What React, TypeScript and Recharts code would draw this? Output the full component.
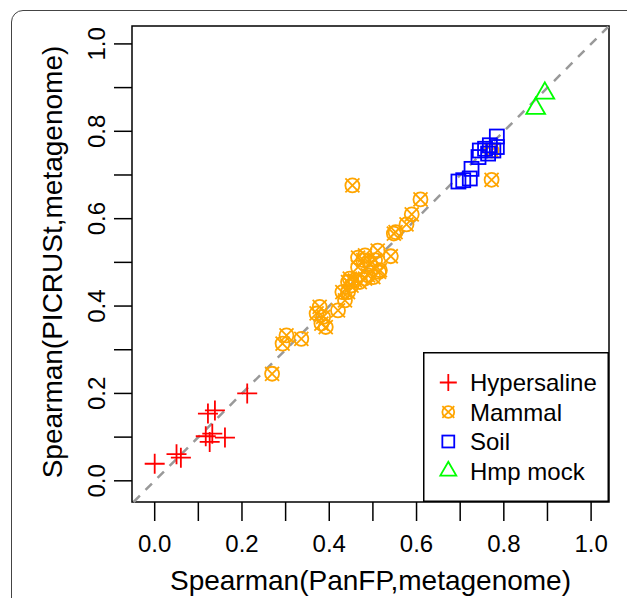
import {
  Legend,
  ReferenceArea,
  ReferenceLine,
  Scatter,
  ScatterChart,
  XAxis,
  YAxis,
} from "recharts";

const hyperX = [0.0, 0.05, 0.06, 0.117, 0.126, 0.132, 0.161, 0.122, 0.138, 0.212];
const hyperY = [0.039, 0.061, 0.053, 0.102, 0.089, 0.108, 0.099, 0.154, 0.161, 0.2];

const mammalX = [
  0.269, 0.293, 0.302, 0.336, 0.371, 0.378, 0.382, 0.386, 0.392, 0.42, 0.43, 0.436,
  0.443, 0.443, 0.447, 0.451, 0.459, 0.47, 0.482, 0.466, 0.478, 0.493, 0.466, 0.489,
  0.501, 0.514, 0.516, 0.482, 0.505, 0.511, 0.541, 0.548, 0.552, 0.577, 0.589, 0.609,
  0.453, 0.772, 0.772,
];
const mammalY = [
  0.245, 0.314, 0.333, 0.325, 0.383, 0.398, 0.36, 0.375, 0.352, 0.39, 0.432, 0.413,
  0.432, 0.455, 0.463, 0.447, 0.459, 0.455, 0.463, 0.511, 0.505, 0.497, 0.489, 0.47,
  0.466, 0.478, 0.482, 0.516, 0.505, 0.527, 0.514, 0.566, 0.569, 0.587, 0.61, 0.644,
  0.676, 0.689, 0.756,
];

const soilX = [0.696, 0.707, 0.722, 0.726, 0.742, 0.745, 0.757, 0.764, 0.768, 0.776, 0.784, 0.784];
const soilY = [0.685, 0.688, 0.692, 0.714, 0.741, 0.756, 0.76, 0.749, 0.768, 0.756, 0.764, 0.788];

const hmpX = [0.873, 0.894];
const hmpY = [0.852, 0.887];

const ticks = [0, 0.1, 0.2, 0.3, 0.4, 0.5, 0.6, 0.7, 0.8, 0.9, 1.0];
const labelled = ["0.0", "0.2", "0.4", "0.6", "0.8", "1.0"];

const xDomain: [number, number] = [-0.052, 1.041];
const yDomain: [number, number] = [-0.0485, 1.041];

const FONT = '"Liberation Sans", Arial, Helvetica, sans-serif';
const RED = "#ff0000";
const ORANGE = "#ffa500";
const BLUE = "#0000ff";
const GREEN = "#00ff00";

const toPoints = (xs: number[], ys: number[]) => xs.map((x, i) => ({ x, y: ys[i] }));

const fmt = (v: number) => {
  const s = v.toFixed(1);
  return labelled.includes(s) ? s : "";
};

function plus(cx: number, cy: number, s: number) {
  const h = 10 * s;
  return (
    <path
      d={`M${cx - h},${cy}H${cx + h}M${cx},${cy - h}V${cy + h}`}
      stroke={RED}
      strokeWidth={1.8}
      fill="none"
    />
  );
}

function circleX(cx: number, cy: number, s: number) {
  const r = 7 * s;
  return (
    <g stroke={ORANGE} strokeWidth={1.8} fill="none">
      <circle cx={cx} cy={cy} r={r} />
      <path d={`M${cx - r},${cy - r}L${cx + r},${cy + r}M${cx - r},${cy + r}L${cx + r},${cy - r}`} />
    </g>
  );
}

function square(cx: number, cy: number, s: number) {
  const h = 7 * s;
  return (
    <rect x={cx - h} y={cy - h} width={2 * h} height={2 * h} stroke={BLUE} strokeWidth={1.8} fill="none" />
  );
}

function triangle(cx: number, cy: number, s: number) {
  const r = 10.9 * s;
  const xc = 9.4 * s;
  const yc = 5.4 * s;
  return (
    <polygon
      points={`${cx},${cy - r} ${cx + xc},${cy + yc} ${cx - xc},${cy + yc}`}
      stroke={GREEN}
      strokeWidth={1.8}
      fill="none"
    />
  );
}

const groups = [
  { name: "Hypersaline", data: toPoints(hyperX, hyperY), mark: plus },
  { name: "Mammal", data: toPoints(mammalX, mammalY), mark: circleX },
  { name: "Soil", data: toPoints(soilX, soilY), mark: square },
  { name: "Hmp mock", data: toPoints(hmpX, hmpY), mark: triangle },
];

function YTick(props: any) {
  const { x, y, payload } = props;
  const t = fmt(payload.value);
  if (!t) return null;
  return (
    <text
      x={x}
      y={y}
      transform={`rotate(-90 ${x} ${y})`}
      textAnchor="middle"
      fontSize={24}
      fontFamily={FONT}
      fill="#000"
    >
      {t}
    </text>
  );
}

function LegendBox() {
  return (
    <svg width={186} height={150} style={{ display: "block" }}>
      <rect x={0.75} y={0.75} width={184.5} height={148.5} fill="#fff" stroke="#000" strokeWidth={1.5} />
      {groups.map((g, i) => {
        const cy = 30.5 + i * 29.5;
        return (
          <g key={g.name}>
            {g.mark(25.3, cy, 0.85)}
            <text x={47} y={cy + 8.5} fontSize={24} fontFamily={FONT} fill="#000">
              {g.name}
            </text>
          </g>
        );
      })}
    </svg>
  );
}

export default function App() {
  return (
    <div
      style={{
        position: "absolute",
        left: 0,
        top: 0,
        width: 627,
        height: 598,
        background: "#fff",
        overflow: "hidden",
        fontFamily: FONT,
      }}
    >
      <div
        style={{
          position: "absolute",
          left: 11,
          top: 10,
          width: 640,
          height: 640,
          border: "1.5px solid #444",
          borderRadius: 12,
        }}
      />
      <ScatterChart
        width={627}
        height={598}
        margin={{ top: 26, right: 18, left: 0, bottom: 0 }}
        style={{ position: "absolute", left: 0, top: 0 }}
      >
        <XAxis
          type="number"
          dataKey="x"
          domain={xDomain}
          allowDataOverflow
          ticks={ticks}
          interval={0}
          tickFormatter={fmt}
          height={96}
          axisLine={false}
          tickSize={19}
          tickMargin={14}
          tickLine={{ stroke: "#000", strokeWidth: 1.5 }}
          tick={{ fill: "#000", fontSize: 24, fontFamily: FONT }}
          label={{
            value: "Spearman(PanFP,metagenome)",
            position: "insideBottom",
            offset: 8,
            fill: "#000",
            fontSize: 28,
            fontFamily: FONT,
          }}
        />
        <YAxis
          type="number"
          dataKey="y"
          domain={yDomain}
          allowDataOverflow
          ticks={ticks}
          interval={0}
          width={132}
          axisLine={false}
          tickSize={18}
          tickMargin={9}
          tickLine={{ stroke: "#000", strokeWidth: 1.5 }}
          tick={<YTick />}
          label={{
            value: "Spearman(PICRUSt,metagenome)",
            content: () => (
              <text
                x={62}
                y={262}
                transform="rotate(-90 62 262)"
                textAnchor="middle"
                fontSize={28}
                fontFamily={FONT}
                fill="#000"
              >
                Spearman(PICRUSt,metagenome)
              </text>
            ),
          }}
        />
        {groups.map((g) => (
          <Scatter
            key={g.name}
            name={g.name}
            data={g.data}
            isAnimationActive={false}
            shape={(p: any) => g.mark(p.cx, p.cy, 1)}
          />
        ))}
        <ReferenceLine
          segment={[
            { x: -0.0485, y: -0.0485 },
            { x: 1.041, y: 1.041 },
          ]}
          stroke="#999"
          strokeWidth={2.5}
          strokeDasharray="9 8"
          ifOverflow="visible"
        />
        <ReferenceArea
          x1={xDomain[0]}
          x2={xDomain[1]}
          y1={yDomain[0]}
          y2={yDomain[1]}
          fill="none"
          fillOpacity={0}
          stroke="#000"
          strokeWidth={1.5}
          ifOverflow="visible"
        />
        <Legend
          layout="horizontal"
          verticalAlign="middle"
          align="center"
          content={() => <LegendBox />}
          wrapperStyle={{ left: 423, top: 352, width: 186, height: 150 }}
        />
      </ScatterChart>
    </div>
  );
}
